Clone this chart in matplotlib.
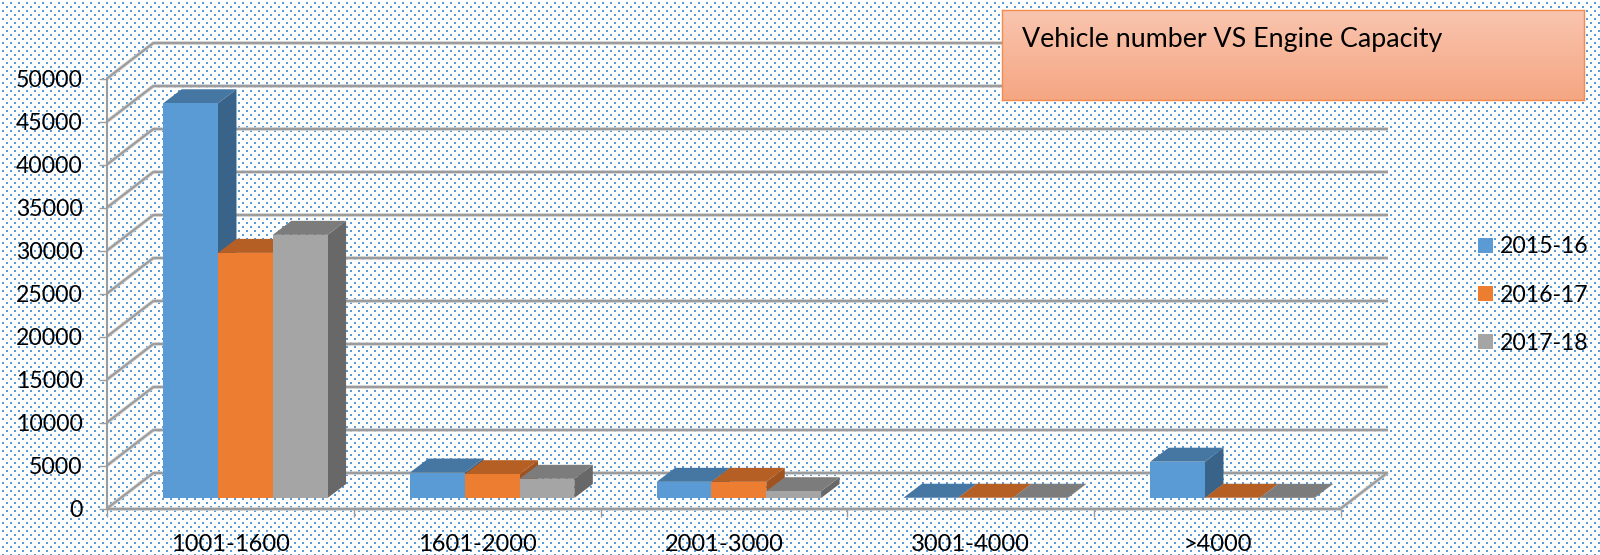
import numpy as np
import matplotlib
matplotlib.use('Agg')
import matplotlib.pyplot as plt

categories = ['1001-1600', '1601-2000', '2001-3000', '3001-4000', '>4000']
series_names = ['2015-16', '2016-17', '2017-18']
values_2015 = [45900, 2960, 1880, 30, 4220]
values_2016 = [28500, 2770, 1880, 30, 30]
values_2017 = [30600, 2230, 790, 30, 20]
y_ticks = [0, 5000, 10000, 15000, 20000, 25000, 30000, 35000, 40000, 45000, 50000]
title_text = 'Vehicle number VS Engine Capacity'

front_colors = ['#5B9BD5', '#ED7D31', '#A5A5A5']
top_colors = ['#4677A3', '#B55F25', '#7C7C7C']
side_colors = ['#3A6389', '#A0521F', '#686868']
grid_color = '#9C9C9C'
grid_soft = '#CFCFCF'

W, H = 1600, 555
plt.rcParams['font.family'] = ['Lato', 'DejaVu Sans']

fig = plt.figure(figsize=(W / 100, H / 100), dpi=100, facecolor='white')

# dotted backdrop
bg = np.ones((H, W, 3))
dot = np.array([0x5B, 0x9B, 0xD5]) / 255
for r, row in enumerate(range(2, H, 4)):
    start = 2 if r % 2 == 0 else 6
    for col in range(start, W, 8):
        bg[row:row + 2, col:col + 2] = dot
fig.figimage(bg, 0, 0, origin='upper', zorder=-5)

# axes = front plane of the 3d box
left, right, bottom, top = 107, 1340.75, 508.5, 78.5
ax = fig.add_axes([left / W, 1 - bottom / H, (right - left) / W, (bottom - top) / H])
ax.patch.set_visible(False)
ax.set_xlim(0, len(categories))
ax.set_ylim(0, 50000)

px_x = len(categories) / (right - left)
px_y = 50000 / (bottom - top)
wall_dx, wall_dy = 47 * px_x, 36 * px_y
plane_dx, plane_dy = 15 * px_x, 10.5 * px_y
bar_dx, bar_dy = 18.5 * px_x, 14 * px_y
bar_w = 54.8 * px_x

lw = 1.5
n = len(categories)


def wall_line(xs, ys):
    # soft edge first, then the core of the line
    ax.plot(xs, ys, color=grid_soft, lw=2.6, clip_on=False, zorder=0.5, solid_capstyle='butt')
    ax.plot(xs, ys, color=grid_color, lw=lw, clip_on=False, zorder=1, solid_capstyle='butt')


# walls and gridlines
for v in y_ticks:
    wall_line([0, wall_dx], [v, v + wall_dy])
    wall_line([wall_dx, n + wall_dx], [v + wall_dy, v + wall_dy])
wall_line([n, n + wall_dx], [0, wall_dy])
wall_line([0, n], [0, 0])

# bars, painted left to right so that each one covers its neighbour's side
z = 3
all_values = [values_2015, values_2016, values_2017]
handles = []
for c in range(n):
    for s, vals in enumerate(all_values):
        x0 = c + 0.5 + plane_dx + (s - 1.5) * bar_w
        x1 = x0 + bar_w
        y0 = plane_dy
        y1 = plane_dy + vals[c]
        b = ax.bar(x0, vals[c], bar_w, bottom=y0, align='edge', color=front_colors[s],
                   linewidth=0, zorder=z + 2, label=series_names[s] if c == 0 else None)
        ax.fill([x0, x1, x1 + bar_dx, x0 + bar_dx], [y1, y1, y1 + bar_dy, y1 + bar_dy],
                color=top_colors[s], lw=0, zorder=z + 1, clip_on=False)
        ax.fill([x1, x1 + bar_dx, x1 + bar_dx, x1], [y0, y0 + bar_dy, y1 + bar_dy, y1],
                color=side_colors[s], lw=0, zorder=z, clip_on=False)
        if c == 0:
            handles.append(b)
        z += 3

for name in ['top', 'right', 'bottom']:
    ax.spines[name].set_visible(False)
ax.spines['left'].set_color(grid_color)
ax.spines['left'].set_linewidth(lw)
ax.spines['left'].set_zorder(2)

ax.set_yticks(y_ticks)
ax.set_yticklabels([str(v) for v in y_ticks])
ax.set_xticks(np.arange(n + 1))
ax.set_xticklabels([])
ax.set_xticks(np.arange(n) + 0.5, categories, minor=True)
ax.tick_params(axis='x', which='major', length=5.5, width=1, color=grid_color)
ax.tick_params(axis='x', which='minor', length=0, pad=18.5, labelsize=17, labelcolor='black')
ax.tick_params(axis='y', length=5.5, width=1, color=grid_color, pad=12,
               labelsize=16.6, labelcolor='black')

fig.legend(handles, series_names, loc='upper left', bbox_to_anchor=(1471 / W, 1 - 229.5 / H),
           frameon=False, fontsize=16.6, handlelength=0.65, handleheight=0.65,
           handletextpad=0.3, labelspacing=1.18, borderpad=0.3, borderaxespad=0)

# title box with vertical gradient
box = fig.add_axes([1002 / W, 1 - 100 / H, 582 / W, 90 / H], zorder=10)
grad = np.linspace(0, 1, 90)[:, None, None]
c_top = np.array([0xF9, 0xC5, 0xAF]) / 255
c_bot = np.array([0xF5, 0xA6, 0x82]) / 255
box.imshow(c_top + (c_bot - c_top) * grad, aspect='auto', extent=(0, 582, 90, 0))
box.set_xticks([])
box.set_yticks([])
for s in box.spines.values():
    s.set_color('#F28C4E')
    s.set_linewidth(1)
box.text(20, 30, title_text, fontsize=19.3, color='black', ha='left', va='center')

fig.savefig('out.png', dpi=100, facecolor='white')
